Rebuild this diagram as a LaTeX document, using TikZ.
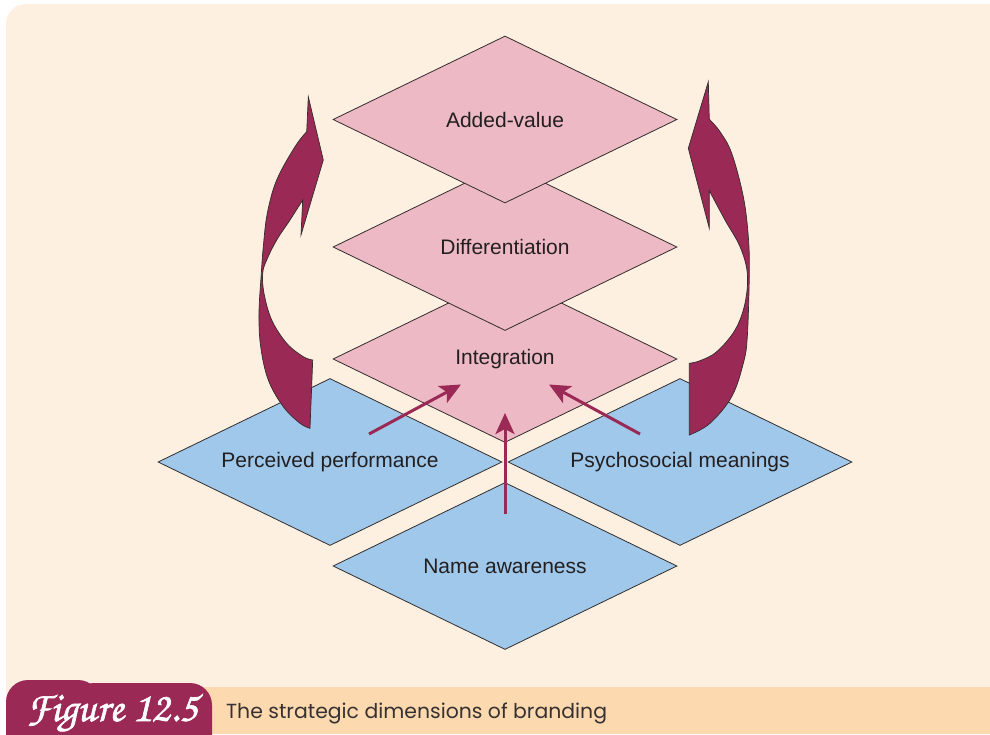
\documentclass[tikz,border=0pt]{standalone}
\usepackage{fontspec}
\setmainfont{Liberation Sans}
\newfontfamily\captionfont{Poppins}
\newfontfamily\badgefont[FakeBold=1.5]{TeX Gyre Chorus}
\usetikzlibrary{shapes.geometric, arrows.meta}

\definecolor{panelbg}{RGB}{253,240,225}
\definecolor{stripbg}{RGB}{253,217,176}
\definecolor{upperpink}{RGB}{237,185,197}
\definecolor{lowerblue}{RGB}{160,200,234}
\definecolor{berry}{RGB}{155,41,85}
\definecolor{ink}{RGB}{35,31,32}
\definecolor{edgegray}{RGB}{50,45,45}
\definecolor{captionink}{RGB}{55,50,50}

\tikzset{
  dimbox/.style={diamond, aspect=2, draw=edgegray, line width=0.8pt,
    minimum width=344pt, minimum height=167pt, inner sep=0pt,
    text=ink, font=\fontsize{21}{25}\selectfont},
  upperdim/.style={dimbox, fill=upperpink},
  lowerdim/.style={dimbox, fill=lowerblue},
  feed/.style={draw=berry, line width=3pt,
    -{Stealth[length=21pt, width=19pt, inset=5pt]}},
  sweep/.style={fill=berry, draw=edgegray, line width=0.7pt, line join=miter}
}

\begin{document}
\begin{tikzpicture}[x=1pt, y=-1pt]
\useasboundingbox (0,0) rectangle (990,734);
\begin{scope}
\clip (0,0) rectangle (990,734);

% background panel with a rounded upper-left corner
\fill[panelbg] (6,700) [rounded corners=20pt] -- (6,4) [sharp corners] -- (990,4) -- (990,700) -- cycle;
% caption strip
\fill[stripbg] (150,687) rectangle (990,734);

% lower tier
\node[lowerdim] (perf)  at (330,462) {Perceived performance};
\node[lowerdim] (psych) at (680,462) {Psychosocial meanings};
\node[lowerdim] (aware) at (505,566) {Name awareness};

% upper tier, stacked from the bottom up
\node[upperdim] (integ) at (505,359) {Integration};
\node[upperdim] (diff)  at (505,247) {Differentiation};
\node[upperdim] (added) at (505,119.5) {Added-value};

% feeds into Integration
\coordinate (perf-src)  at (369,434);
\coordinate (integ-l)   at (461,384.5);
\coordinate (psych-src) at (640,434);
\coordinate (integ-r)   at (549,384.5);
\coordinate (aware-src) at (505,514);
\coordinate (integ-b)   at (505,413);
\draw[feed] (perf-src) -- (integ-l);
\draw[feed] (psych-src) -- (integ-r);
\draw[feed] (aware-src) -- (integ-b);

% left sweeping arrow
\draw[sweep] plot[smooth, tension=0.6] coordinates {
    (310,428.3) (300,423.3) (283.3,406.7) (268.3,380) (260.7,346.7)
    (259,313.3) (261.3,273.3) (263.3,246.7) (267.3,213.3) (276.7,180)
    (295,146.7) (306.7,131.7)}
  -- (308.3,96.7) -- (323.3,160) -- (301,235) -- (302.7,200)
  -- plot[smooth, tension=0.6] coordinates {
    (302.7,200) (290,220) (276.7,240) (266.7,260) (262.7,273.3)
    (264,293.3) (271.7,320) (286.7,343.3) (303.3,356.7) (312.7,360)}
  -- cycle;

% right sweeping arrow
\draw[sweep] plot[smooth, tension=0.6] coordinates {
    (689.3,435) (710,423.3) (731.7,396.7) (743.3,363.3) (747.3,336.7)
    (749.3,273.3) (748.3,236.7) (743.3,196.7) (731.7,153.3) (720,131.7)
    (709.3,119.3)}
  -- (708.3,81.7) -- (688.3,148.3) -- (709.3,228.3) -- (709.3,190.7)
  -- plot[smooth, tension=0.6] coordinates {
    (709.3,190.7) (725,220) (740,246.7) (747.3,273.3) (745,303.3)
    (735,330) (716.7,351.7) (700,360.7) (689.3,363.3)}
  -- cycle;

% figure badge
\fill[berry, rounded corners=22pt] (6,680) rectangle (100,770);
\fill[berry, rounded corners=22pt] (72,683) rectangle (212,770);
\node[text=white, anchor=base, inner sep=0pt,
      font=\badgefont\fontsize{42}{42}\selectfont] (badge) at (112,721) {Figure 12.5};

% caption
\node[anchor=base west, inner sep=0pt, text=captionink,
      font=\captionfont\fontsize{20.4}{24}\selectfont] (caption) at (226,718)
  {The strategic dimensions of branding};
\end{scope}
\end{tikzpicture}
\end{document}
